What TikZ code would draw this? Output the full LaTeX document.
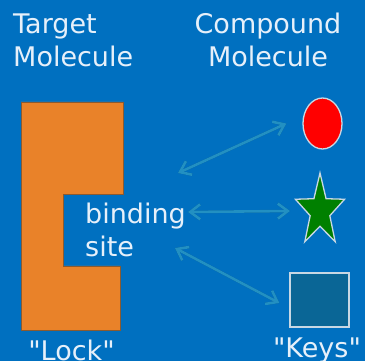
\documentclass[tikz,border=0pt]{standalone}
\usepackage{fontspec}
\setmainfont{DejaVu Sans}[Ligatures=TeXOff]
\usetikzlibrary{shapes.geometric,arrows.meta}

\definecolor{bgblue}{HTML}{0070C0}
\definecolor{lockorange}{HTML}{E98229}
\definecolor{lockedge}{HTML}{8A5A30}
\definecolor{labeltext}{HTML}{E6F0FA}
\definecolor{linkteal}{HTML}{2290C2}
\definecolor{linkshade}{HTML}{05507E}
\definecolor{keygreen}{HTML}{008000}
\definecolor{keysquare}{HTML}{0A6696}
\definecolor{keyedge}{HTML}{C8D8E4}

\tikzset{
  linkbarb/.tip={Straight Barb[length=10pt,width=15pt,line width=2.6pt]},
  label text/.style={text=labeltext, inner sep=0pt, font=\fontsize{27}{33}\selectfont},
  link/.style={draw=linkteal, line width=2.6pt, linkbarb-linkbarb},
  link shadow/.style={draw=linkshade, opacity=0.7, line width=2.6pt, linkbarb-linkbarb},
  keyedge/.style={draw=keyedge, line width=1.3pt}
}

\begin{document}
\begin{tikzpicture}[x=1pt, y=-1pt]
  % background
  \fill[bgblue] (0,0) rectangle (365,361);
  \useasboundingbox (0,0) rectangle (365,361);

  % headings (base anchor sits on the last line)
  \node[label text, anchor=base west, align=left] (target) at (13,67) {Target\\Molecule};
  \node[label text, anchor=base, align=center] (compound) at (268,67) {Compound\\Molecule};

  % lock with binding-site notch
  \path[fill=lockorange, draw=lockedge, line width=0.8pt]
    (21,102) -- (123,102) -- (123,194) -- (63,194) -- (63,266)
    -- (120,266) -- (120,330) -- (21,330) -- cycle;
  \node[label text, anchor=base west, align=left] (bind) at (85,257) {binding\\site};

  % keys
  \node[ellipse, fill=red, keyedge, minimum width=39pt, minimum height=51pt, inner sep=0pt]
    (ell) at (322.5,123.5) {};
  \node[star, star points=5, star point ratio=2.5, fill=keygreen, keyedge,
        minimum size=76pt, inner sep=0pt, xscale=0.68]
    (st) at (320,211) {};
  \node[rectangle, fill=keysquare, keyedge, minimum width=59pt, minimum height=54pt, inner sep=0pt]
    (sq) at (319.5,300) {};

  % captions
  \node[label text, anchor=base] (lock) at (71.5,360) {"Lock"};
  \node[label text, anchor=base] (keys) at (317,357) {"Keys"};

  % connectors between the binding site and the keys
  \coordinate (b1) at ([shift={(93,-84)}]bind.base west);
  \coordinate (b2) at ([shift={(103,-45)}]bind.base west);
  \coordinate (b3) at ([shift={(90,-9)}]bind.base west);
  \coordinate (k1) at ([xshift=-16pt]ell.west);
  \coordinate (k2) at ([xshift=-30pt]st.center);
  \coordinate (k3) at ([shift={(-10,3)}]sq.west);

  \begin{scope}[shift={(1.2,1.8)}]
    \draw[link shadow] (b1) -- (k1);
    \draw[link shadow] (b2) -- (k2);
    \draw[link shadow] (b3) -- (k3);
  \end{scope}
  \draw[link] (b1) -- (k1);
  \draw[link] (b2) -- (k2);
  \draw[link] (b3) -- (k3);
\end{tikzpicture}
\end{document}
